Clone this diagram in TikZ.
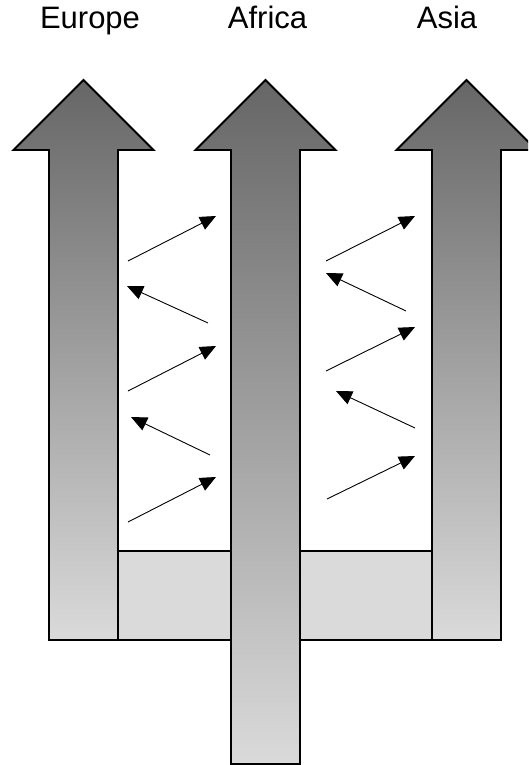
\documentclass[tikz,border=0pt]{standalone}
\usepackage{fontspec}
\setmainfont{Liberation Sans}
\usetikzlibrary{arrows.meta}
\definecolor{topgray}{HTML}{666666}
\definecolor{lowgray}{HTML}{DADADA}

\tikzset{
  bigarrow/.style={draw=black, line width=1.9pt, top color=topgray, bottom color=lowgray},
  basebar/.style={draw=black, line width=1.9pt, fill=lowgray},
  drift/.style={line width=0.9pt, -{Triangle[length=16pt,width=14pt]}},
  region/.style={font=\fontsize{31}{37}\selectfont, anchor=base, inner sep=0pt}
}

% #1 = x of the tip, #2 = y of the bottom edge
\newcommand{\upArrow}[2]{%
  \draw[bigarrow] ({#1-34.5},#2) -- ({#1-34.5},150) -- ({#1-70},150) -- (#1,80)
    -- ({#1+70},150) -- ({#1+34.5},150) -- ({#1+34.5},#2) -- cycle;}

\begin{document}
\begin{tikzpicture}[x=1pt, y=-1pt]
    \useasboundingbox (0,0) rectangle (528,765);
    \clip (0,0) rectangle (528,765);

    \draw[basebar] (118,551) rectangle (432,640);

    \upArrow{83.5}{640}
    \upArrow{265.5}{764}
    \upArrow{466.5}{640}

    \node[region] (europe) at (90,29) {Europe};
    \node[region] (africa) at (267.5,29) {Africa};
    \node[region] (asia) at (447,29) {Asia};

    % migrations between the continents
    \foreach \i/\ax/\ay/\bx/\by in {
        1/128/261/216/216, 2/208/323/127/286, 3/128/391/216/346,
        4/210/455/131/417, 5/128/522/216/477,
        6/326/261/415/216, 7/406/311/326/273, 8/326/371/415/327,
        9/415/428/336/391, 10/327/499/415/456} {
      \coordinate (s\i) at (\ax,\ay);
      \coordinate (e\i) at (\bx,\by);
      \draw[drift] (s\i) -- (e\i);
    }
\end{tikzpicture}
\end{document}
